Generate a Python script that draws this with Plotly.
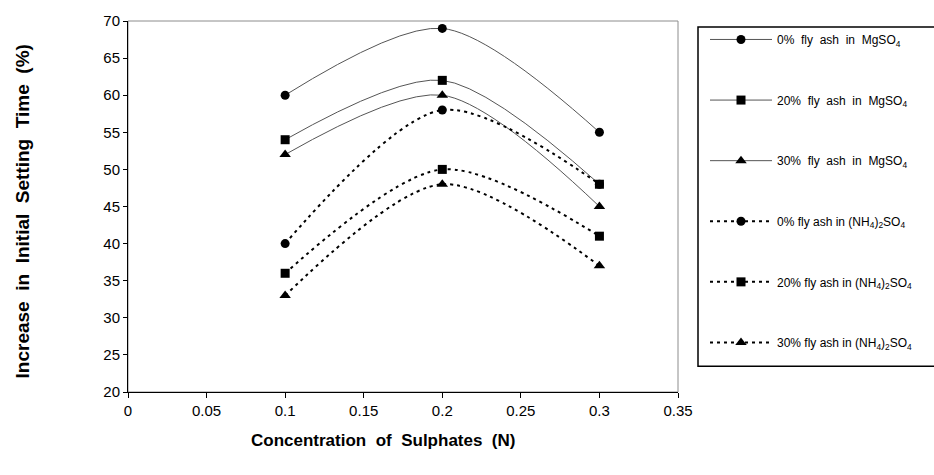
import plotly.graph_objects as go

conc = [0.1, 0.2, 0.3]
mg_0 = [60, 69, 55]
mg_20 = [54, 62, 48]
mg_30 = [52, 60, 45]
nh_0 = [40, 58, 48]
nh_20 = [36, 50, 41]
nh_30 = [33, 48, 37]

names = [
    "0%&nbsp; fly&nbsp; ash&nbsp; in&nbsp; MgSO<sub>4</sub>",
    "20%&nbsp; fly&nbsp; ash&nbsp; in&nbsp; MgSO<sub>4</sub>",
    "30%&nbsp; fly&nbsp; ash&nbsp; in&nbsp; MgSO<sub>4</sub>",
    "0% fly ash in (NH<sub>4</sub>)<sub>2</sub>SO<sub>4</sub>",
    "20% fly ash in (NH<sub>4</sub>)<sub>2</sub>SO<sub>4</sub>",
    "30% fly ash in (NH<sub>4</sub>)<sub>2</sub>SO<sub>4</sub>",
]
series = [mg_0, mg_20, mg_30, nh_0, nh_20, nh_30]
symbols = ["circle", "square", "triangle-up", "circle", "square", "triangle-up"]
sizes = [9, 9, 10, 9, 9, 10]

fig = go.Figure()
for i, (nm, ys, sym, sz) in enumerate(zip(names, series, symbols, sizes)):
    solid = i < 3
    fig.add_trace(go.Scatter(
        x=conc, y=ys, name=nm, mode="lines+markers",
        line=dict(shape="spline", smoothing=0.85,
                  color="#555555" if solid else "black",
                  width=1 if solid else 2,
                  dash="solid" if solid else "3px,4px"),
        marker=dict(symbol=sym, size=sz, color="black"),
        legendgroup="g%d" % i,
    ))

fig.add_shape(type="rect", xref="paper", yref="paper", x0=0, y0=0, x1=1, y1=1,
              line=dict(color="#8c8c8c", width=1), layer="below")
# legend frame (runs past the right edge as in the reference)
fig.add_shape(type="rect", xref="paper", yref="paper",
              x0=(698 - 128) / 550, x1=(960 - 128) / 550,
              y0=(392 - 366) / 374, y1=(392 - 24) / 374,
              line=dict(color="black", width=1.5), layer="below")

fig.add_annotation(text="<b>Concentration&nbsp; of&nbsp; Sulphates&nbsp; (N)</b>",
                   xref="paper", yref="paper", x=(383 - 128) / 550, y=(392 - 441) / 374,
                   xanchor="center", yanchor="middle", showarrow=False,
                   font=dict(size=17, color="black"))
fig.add_annotation(text="<b>Increase&nbsp; in&nbsp; Initial&nbsp; Setting&nbsp; Time&nbsp; (%)</b>",
                   xref="paper", yref="paper", x=(22 - 128) / 550, y=(392 - 210) / 374,
                   xanchor="center", yanchor="middle", textangle=-90, showarrow=False,
                   font=dict(size=19, color="black"))

fig.update_layout(
    width=934, height=475,
    margin=dict(l=128, r=256, t=18, b=83),
    paper_bgcolor="white", plot_bgcolor="white",
    font=dict(family="Liberation Sans, Arial, sans-serif", color="black"),
    showlegend=True,
    legend=dict(x=(705 - 128) / 550, y=(392 - 22) / 374, xanchor="left", yanchor="top",
                bgcolor="rgba(0,0,0,0)", borderwidth=0,
                font=dict(size=12, color="black"),
                traceorder="grouped", tracegroupgap=41.6, itemwidth=62),
    xaxis=dict(range=[0, 0.35], dtick=0.05, tick0=0, showgrid=False, zeroline=False,
               showline=True, linecolor="black", linewidth=1,
               ticks="outside", ticklen=5, tickcolor="black",
               tickfont=dict(size=15), tickformat="~g"),
    yaxis=dict(range=[20, 70], dtick=5, showgrid=False, zeroline=False,
               showline=True, linecolor="black", linewidth=1,
               ticks="outside", ticklen=4, tickcolor="black",
               tickfont=dict(size=15)),
)

fig.write_html("out.html")
